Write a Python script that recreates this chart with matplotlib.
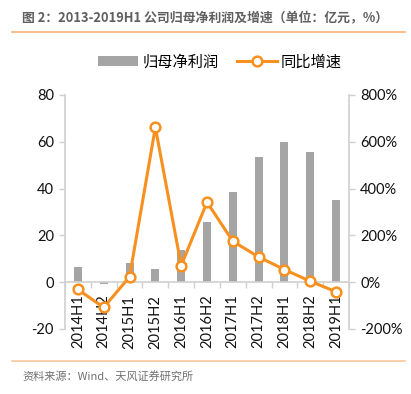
import matplotlib
matplotlib.use("Agg")
import matplotlib.pyplot as plt
from matplotlib.lines import Line2D
from matplotlib.patches import Patch
import numpy as np

plt.rcParams['font.family'] = ['Noto Sans CJK SC', 'DejaVu Sans']

categories = ["2014H1", "2014H2", "2015H1", "2015H2", "2016H1", "2016H2",
              "2017H1", "2017H2", "2018H1", "2018H2", "2019H1"]
net_profit = [6.4, -0.9, 8.1, 5.7, 13.8, 25.6, 38.5, 53.4, 59.8, 55.8, 35.0]
growth_pct = [-31, -108, 23, 662, 71, 342, 175, 108, 54, 4, -41]
left_ticks = [-20, 0, 20, 40, 60, 80]
right_ticks = [-200, 0, 200, 400, 600, 800]

title = "图 2：2013-2019H1 公司归母净利润及增速（单位：亿元，%）"
source = "资料来源：Wind、天风证券研究所"
label_bar = "归母净利润"
label_line = "同比增速"

W, H = 411, 394
fig = plt.figure(figsize=(W / 100, H / 100), dpi=100)
ax = fig.add_axes([65 / W, 1 - 329 / H, (349 - 65) / W, (329 - 95) / H])
ax2 = ax.twinx()

x = np.arange(len(categories))
bar_color = "#A5A5A5"
line_color = "#F7901E"
spine_color = "#D0D0D0"

ax.bar(x, net_profit, width=0.31, color=bar_color, zorder=2)
ax.set_xlim(-0.5, len(categories) - 0.5)
ax.set_ylim(-20, 80)
ax.set_yticks(left_ticks)
ax.set_yticklabels([str(v) for v in left_ticks], fontsize=10.5, family='Lato')

ax2.plot(x, growth_pct, color=line_color, lw=2.2, marker='o', markersize=7,
         markerfacecolor='white', markeredgecolor=line_color, markeredgewidth=1.8, zorder=5)
ax2.set_ylim(-200, 800)
ax2.set_yticks(right_ticks)
ax2.set_yticklabels([f"{v}%" for v in right_ticks], fontsize=10.5, family='Lato')
ax2.set_zorder(ax.get_zorder() + 1)
ax2.patch.set_visible(False)

for a in (ax, ax2):
    for s in a.spines.values():
        s.set_visible(False)
    a.tick_params(axis='y', color=spine_color, length=4, width=1, pad=4, labelcolor='#111111')

ax.spines['left'].set_visible(True)
ax.spines['left'].set_color(spine_color)
ax.spines['left'].set_linewidth(1.2)
ax2.spines['right'].set_visible(True)
ax2.spines['right'].set_color(spine_color)
ax2.spines['right'].set_linewidth(1.2)

ax.spines['bottom'].set_visible(True)
ax.spines['bottom'].set_position(('data', 0))
ax.spines['bottom'].set_color(spine_color)
ax.spines['bottom'].set_linewidth(1.2)
ax.set_xticks(x)
ax.set_xticklabels(categories, rotation=90, fontsize=10.5, family='Lato', color='#111111')
ax.tick_params(axis='x', which='major', length=0, pad=9)
ax.set_xticks(np.arange(-0.5, len(categories), 1.0), minor=True)
ax.tick_params(axis='x', which='minor', length=4, color=spine_color, width=1)
ax2.tick_params(axis='x', which='both', bottom=False, top=False,
                labelbottom=False, labeltop=False)

# Legend
handles = [Patch(facecolor=bar_color, edgecolor='none', label=label_bar),
           Line2D([0], [0], color=line_color, lw=2.2, marker='o', markersize=7,
                  markerfacecolor='white', markeredgecolor=line_color, markeredgewidth=1.8,
                  label=label_line)]
fig.legend(handles=handles, loc='center', bbox_to_anchor=(220 / W, 1 - 62 / H), ncol=2,
           frameon=False, fontsize=11, handlelength=2.6, handleheight=0.6,
           columnspacing=1.2, handletextpad=0.3)

# Title and decorations
fig.text(22 / W, 1 - 18 / H, title, fontsize=9.3, color='#606060', fontweight='bold',
         va='center', ha='left')
fig.add_artist(Line2D([12 / W, 405 / W], [1 - 32 / H, 1 - 32 / H], color='#F8B27A', lw=1.2))
fig.add_artist(Line2D([12 / W, 405 / W], [1 - 361 / H, 1 - 361 / H], color='#F9C79C', lw=1.2))
fig.text(22 / W, 1 - 376 / H, source, fontsize=8, color='#707070', va='center', ha='left')

fig.savefig("out.png", dpi=100)
